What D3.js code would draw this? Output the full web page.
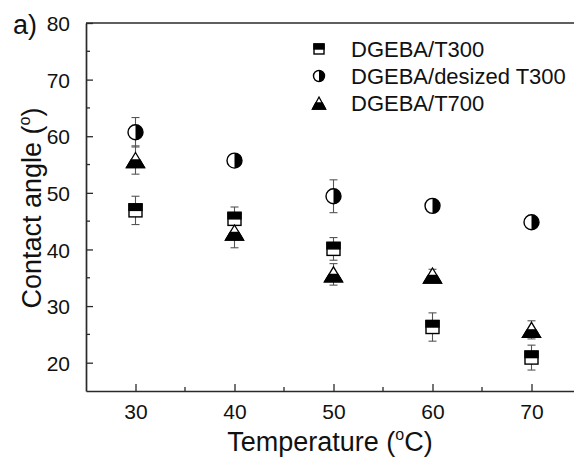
<!DOCTYPE html>
<html>
<head>
<meta charset="utf-8">
<script src="https://cdn.jsdelivr.net/npm/d3@7"></script>
<style>
  html, body { margin: 0; padding: 0; background: #fff; }
  svg { display: block; font-family: "Liberation Sans", Arial, sans-serif; }
</style>
</head>
<body>
<svg id="chart" width="574" height="457"></svg>
<script>
// Contact angle of epoxy on carbon fibres versus temperature
const temperatures = [30, 40, 50, 60, 70];
const seriesNames = ["DGEBA/T300", "DGEBA/desized T300", "DGEBA/T700"];
const t300Angle = [46.9, 45.4, 40.1, 26.3, 20.9];
const t300Err = [2.5, 2.1, 2.0, 2.5, 2.2];
const desizedAngle = [60.7, 55.7, 49.4, 47.7, 44.8];
const desizedErr = [2.6, 0.5, 2.9, 0.5, 0.5];
const t700Angle = [55.8, 43.0, 35.6, 35.4, 25.8];
const t700Err = [2.5, 2.7, 1.9, 1.1, 1.6];
const xTicks = [30, 40, 50, 60, 70];
const yTicks = [20, 30, 40, 50, 60, 70, 80];

const svg = d3.select("#chart");
const axisColor = "#2a2a2a";

const x = d3.scaleLinear().domain([25, 75]).range([86, 581]);
const y = d3.scaleLinear().domain([15, 80]).range([391, 23]);

// frame: top border line
svg.append("line")
  .attr("x1", x(25)).attr("x2", x(75))
  .attr("y1", y(80)).attr("y2", y(80))
  .attr("stroke", axisColor).attr("stroke-width", 1.7);

// axes with inward ticks
function styleAxis(g) {
  g.select(".domain").attr("stroke", axisColor).attr("stroke-width", 1.7);
  g.selectAll(".tick line").attr("stroke", axisColor).attr("stroke-width", 1.3);
  g.selectAll(".tick text").attr("fill", "#111").style("font-size", "21px")
    .style("font-family", "Liberation Sans, Arial, sans-serif");
}

const xAxis = d3.axisBottom(x).tickValues(xTicks).tickSizeInner(-7).tickSizeOuter(0).tickPadding(13);
const gx = svg.append("g").attr("transform", `translate(0,${y(15)})`).call(xAxis);
styleAxis(gx);
gx.selectAll(".minor").data(d3.range(35, 75, 10)).enter().append("line")
  .attr("x1", d => x(d)).attr("x2", d => x(d)).attr("y1", 0).attr("y2", -4)
  .attr("stroke", axisColor).attr("stroke-width", 1.3);

const yAxis = d3.axisLeft(y).tickValues(yTicks).tickSizeInner(-7).tickSizeOuter(0).tickPadding(16);
const gy = svg.append("g").attr("transform", `translate(${x(25)},0)`).call(yAxis);
styleAxis(gy);
gy.selectAll(".tick text").attr("dy", "0.36em");
gy.selectAll(".minor").data(d3.range(25, 80, 10)).enter().append("line")
  .attr("y1", d => y(d)).attr("y2", d => y(d)).attr("x1", 0).attr("x2", 4)
  .attr("stroke", axisColor).attr("stroke-width", 1.3);

// axis titles with superscript degree sign
const xt = svg.append("text").attr("x", 330).attr("y", 451)
  .attr("text-anchor", "middle").style("font-size", "27px").attr("fill", "#111");
xt.append("tspan").text("Temperature (");
xt.append("tspan").text("o").attr("dy", -11).style("font-size", "16px");
xt.append("tspan").text("C)").attr("dy", 11);

const yt = svg.append("text").attr("transform", "translate(41,208) rotate(-90)")
  .attr("text-anchor", "middle").style("font-size", "27px").attr("fill", "#111");
yt.append("tspan").text("Contact angle (");
yt.append("tspan").text("o").attr("dy", -11).style("font-size", "16px");
yt.append("tspan").text(")").attr("dy", 11);

svg.append("text").attr("x", 13).attr("y", 34).text("a)")
  .style("font-size", "27px").attr("fill", "#111");

// half-filled marker shapes
function drawSquare(g, s) {
  const h = s / 2;
  g.append("rect").attr("x", -h).attr("y", -h).attr("width", s).attr("height", s)
    .attr("fill", "#fff").attr("stroke", "#000").attr("stroke-width", 1.4);
  g.append("rect").attr("x", -h).attr("y", -h).attr("width", s).attr("height", h)
    .attr("fill", "#000").attr("stroke", "#000").attr("stroke-width", 1.4);
}
function drawCircle(g, r) {
  g.append("circle").attr("r", r).attr("fill", "#fff").attr("stroke", "#000").attr("stroke-width", 1.4);
  g.append("path").attr("d", `M0,${-r}A${r},${r} 0 0 1 0,${r}Z`).attr("fill", "#000");
}
function drawTriangle(g, w, h) {
  const hw = w / 2, hh = h / 2;
  g.append("path").attr("d", `M0,${-hh}L${hw},${hh}L${-hw},${hh}Z`)
    .attr("fill", "#fff").attr("stroke", "#000").attr("stroke-width", 1.3).attr("stroke-linejoin", "miter");
  g.append("path").attr("d", `M${-hw / 2},0L${hw / 2},0L${hw},${hh}L${-hw},${hh}Z`)
    .attr("fill", "#000").attr("stroke", "#000").attr("stroke-width", 1.3);
}

const series = [
  { name: seriesNames[0], values: t300Angle, errs: t300Err, draw: g => drawSquare(g, 13), legend: g => drawSquare(g, 10) },
  { name: seriesNames[1], values: desizedAngle, errs: desizedErr, draw: g => drawCircle(g, 7.5), legend: g => drawCircle(g, 5.5) },
  { name: seriesNames[2], values: t700Angle, errs: t700Err, draw: g => drawTriangle(g, 18, 15), legend: g => drawTriangle(g, 13, 12) }
];

// error bars first, markers on top
series.forEach(s => {
  const pts = temperatures.map((t, i) => ({ t, v: s.values[i], e: s.errs[i] }));
  const eb = svg.append("g").attr("stroke", "#555").attr("stroke-width", 1.1);
  pts.forEach(p => {
    eb.append("line").attr("x1", x(p.t)).attr("x2", x(p.t)).attr("y1", y(p.v + p.e)).attr("y2", y(p.v - p.e));
    [p.v + p.e, p.v - p.e].forEach(v => {
      eb.append("line").attr("x1", x(p.t) - 4).attr("x2", x(p.t) + 4).attr("y1", y(v)).attr("y2", y(v));
    });
  });
});
series.forEach(s => {
  temperatures.forEach((t, i) => {
    const g = svg.append("g").attr("transform", `translate(${x(t)},${y(s.values[i])})`);
    s.draw(g);
  });
});

// legend
series.forEach((s, i) => {
  const cy = 49 + i * 27;
  const g = svg.append("g").attr("transform", `translate(319,${cy})`);
  s.legend(g);
  svg.append("text").attr("x", 351).attr("y", cy + 8).text(s.name)
    .style("font-size", "22px").attr("fill", "#111");
});
</script>
</body>
</html>
